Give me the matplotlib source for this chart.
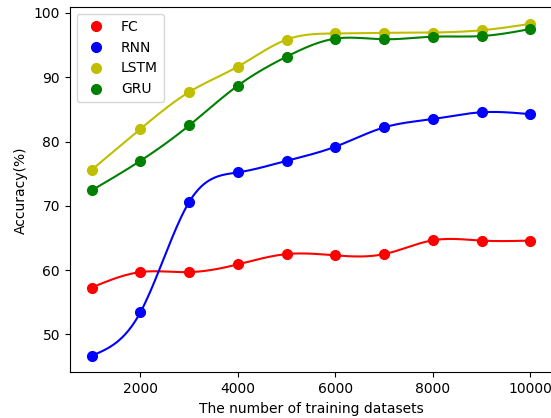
import numpy as np
import matplotlib
matplotlib.use("Agg")
import matplotlib.pyplot as plt

sizes = [1000, 2000, 3000, 4000, 5000, 6000, 7000, 8000, 9000, 10000]
fc = [57.3, 59.7, 59.7, 60.9, 62.5, 62.3, 62.5, 64.65, 64.6, 64.6]
rnn = [46.7, 53.45, 70.6, 75.2, 77.0, 79.2, 82.2, 83.5, 84.55, 84.25]
lstm = [75.6, 81.95, 87.7, 91.65, 95.85, 96.8, 96.9, 96.95, 97.3, 98.3]
gru = [72.4, 77.0, 82.5, 88.7, 93.2, 96.0, 95.9, 96.3, 96.4, 97.5]


def cubic_spline(x, y, xs):
    """Natural cubic spline through (x, y), evaluated at xs."""
    x = np.asarray(x, float)
    y = np.asarray(y, float)
    n = len(x)
    h = np.diff(x)
    A = np.zeros((n, n))
    b = np.zeros(n)
    A[0, 0] = 1.0
    A[-1, -1] = 1.0
    for i in range(1, n - 1):
        A[i, i - 1] = h[i - 1]
        A[i, i] = 2 * (h[i - 1] + h[i])
        A[i, i + 1] = h[i]
        b[i] = 6 * ((y[i + 1] - y[i]) / h[i] - (y[i] - y[i - 1]) / h[i - 1])
    M = np.linalg.solve(A, b)
    idx = np.clip(np.searchsorted(x, xs) - 1, 0, n - 2)
    x0, x1 = x[idx], x[idx + 1]
    hh = x1 - x0
    return (M[idx] * (x1 - xs) ** 3 / (6 * hh)
            + M[idx + 1] * (xs - x0) ** 3 / (6 * hh)
            + (y[idx] / hh - M[idx] * hh / 6) * (x1 - xs)
            + (y[idx + 1] / hh - M[idx + 1] * hh / 6) * (xs - x0))


fig = plt.figure(figsize=(5.51, 4.18), dpi=100)
ax = fig.add_axes([0.1265, 0.109, 0.876, 0.874])

xs = np.linspace(min(sizes), max(sizes), 300)
for vals, col, name in [(fc, "r", "FC"), (rnn, "b", "RNN"),
                        (lstm, "y", "LSTM"), (gru, "g", "GRU")]:
    ax.plot(sizes, vals, col + "o", markersize=7, label=name)
    ax.plot(xs, cubic_spline(sizes, vals, xs), col, linewidth=1.5)

ax.set_xlim(550, 10450)
ax.set_ylim(44.1, 100.9)
ax.set_xticks([2000, 4000, 6000, 8000, 10000])
ax.set_yticks([50, 60, 70, 80, 90, 100])
ax.set_xlabel("The number of training datasets")
ax.set_ylabel("Accuracy(%)")
ax.legend(loc="upper left")

fig.savefig("out.png", dpi=100)
